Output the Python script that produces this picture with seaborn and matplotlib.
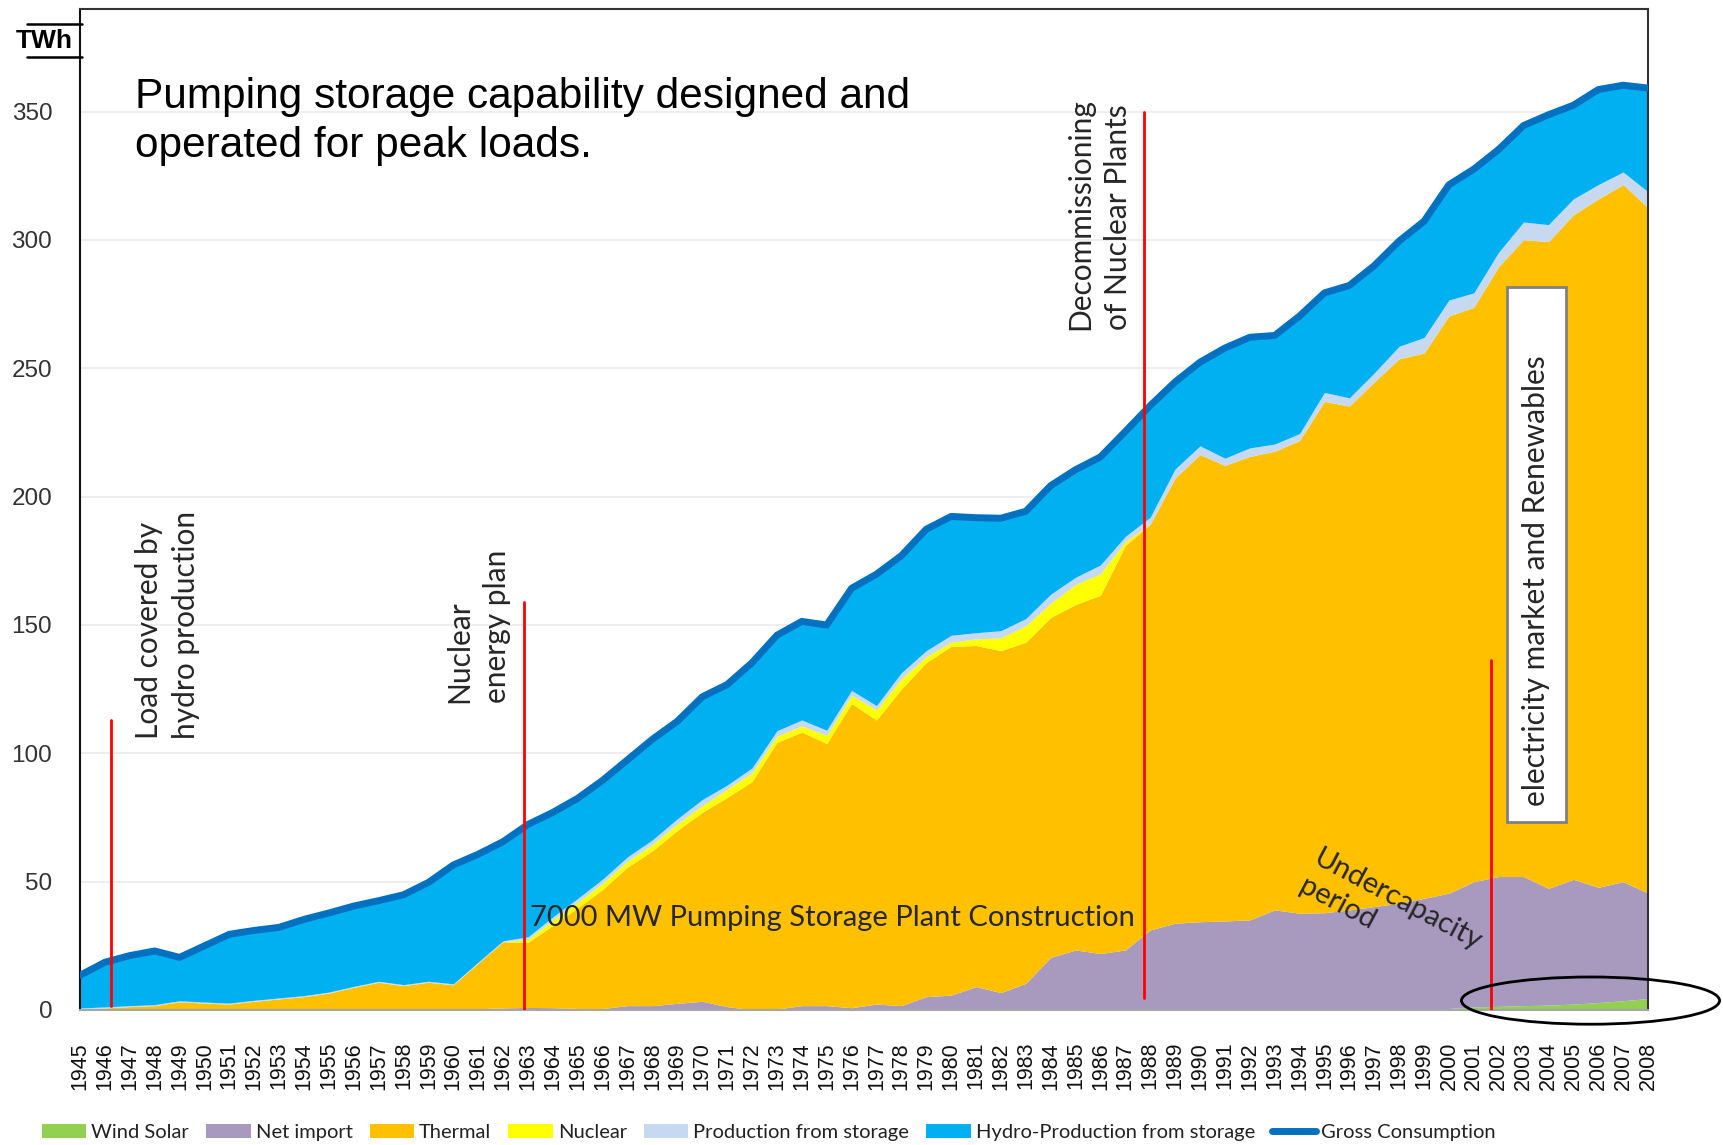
import matplotlib
matplotlib.use("Agg")
import matplotlib.pyplot as plt
import seaborn as sns
from matplotlib.patches import Ellipse, Patch, Rectangle
from matplotlib.lines import Line2D

# ---------------- data (TWh) ----------------
years = list(range(1945, 2009))

wind_solar = [0, 0, 0, 0, 0, 0, 0, 0, 0, 0,
              0, 0, 0, 0, 0, 0, 0, 0, 0, 0,
              0, 0, 0, 0, 0, 0, 0, 0, 0, 0,
              0, 0, 0, 0, 0, 0, 0, 0, 0, 0,
              0, 0, 0, 0, 0, 0, 0, 0, 0, 0,
              0, 0, 0.1, 0.2, 0.4, 0.6, 1.2, 1.4, 1.7, 1.9,
              2.3, 2.9, 3.6, 4.5]

net_import = [0.1, 0.1, 0.1, 0.1, 0.1, 0.1, 0.1, 0.1, 0.1, 0.1,
              0.1, 0.1, 0.1, 0.1, 0.3, 0.3, 0.5, 0.8, 1.0, 0.9,
              0.6, 0.6, 1.7, 1.7, 2.6, 3.4, 1.3, 0.1, 0.4, 1.7,
              1.7, 0.9, 2.3, 1.7, 5.2, 5.8, 9.1, 6.8, 10.4, 20.5,
              23.4, 22.0, 23.4, 31.2, 33.8, 34.4, 34.7, 35.1, 39.0, 37.7,
              37.9, 39.0, 40.2, 41.4, 43.1, 44.9, 48.8, 50.6, 50.3, 45.5,
              48.6, 44.9, 46.4, 41.0]

thermal = [0.3, 0.7, 1.2, 1.6, 3.1, 2.6, 2.2, 3.3, 4.2, 5.1,
           6.5, 8.7, 10.7, 9.4, 10.5, 9.5, 17.8, 25.8, 25.3, 32.1,
           39.2, 46.4, 54.0, 60.3, 67.4, 73.6, 81.5, 88.9, 103.9, 106.6,
           102.1, 118.5, 110.7, 123.3, 130.2, 135.9, 132.9, 133.2, 132.9, 132.4,
           134.6, 139.6, 157.6, 158.1, 173.5, 182.0, 177.5, 180.6, 178.7, 184.2,
           199.2, 196.3, 204.4, 212.1, 212.5, 224.9, 223.8, 237.7, 248.1, 252.0,
           258.9, 268.2, 271.6, 267.1]

nuclear = [0, 0, 0, 0, 0, 0, 0, 0, 0, 0,
           0, 0, 0, 0, 0, 0, 0, 0, 1.2, 2.0,
           2.2, 2.4, 2.3, 2.5, 2.5, 2.6, 3.2, 3.4, 2.4, 2.4,
           3.2, 3.2, 4.0, 4.0, 2.3, 1.6, 2.6, 5.0, 6.4, 5.6,
           7.8, 8.4, 1.5, 0, 0, 0, 0, 0, 0, 0,
           0, 0, 0, 0, 0, 0, 0, 0, 0, 0,
           0, 0, 0, 0]

prod_storage = [0.4, 0.4, 0.4, 0.4, 0.4, 0.4, 0.4, 0.4, 0.4, 0.4,
                0.4, 0.4, 0.4, 0.4, 0.4, 0.4, 0.4, 0.4, 1.0, 1.3,
                1.5, 1.6, 1.7, 1.8, 2.0, 2.4, 1.6, 1.9, 2.1, 2.3,
                2.0, 1.9, 1.6, 2.4, 2.3, 2.7, 2.4, 2.8, 2.8, 3.5,
                2.8, 3.4, 2.0, 2.7, 3.5, 3.4, 2.8, 3.3, 2.8, 2.7,
                3.5, 3.2, 3.5, 4.9, 6.0, 6.2, 5.6, 5.6, 6.9, 6.6,
                6.2, 5.6, 4.9, 6.2]

hydro = [12.7, 17.4, 19.5, 20.9, 16.9, 21.9, 26.8, 27.2, 27.5, 29.7,
         30.8, 31.3, 31.4, 35.0, 38.5, 46.3, 42.0, 38.6, 43.8, 40.7,
         39.0, 38.5, 37.8, 39.2, 38.0, 40.0, 39.2, 41.0, 37.2, 38.4,
         41.0, 39.8, 51.2, 45.6, 47.3, 46.3, 44.8, 43.8, 41.8, 42.3,
         41.9, 42.1, 40.9, 43.5, 33.9, 32.6, 42.9, 43.1, 42.3, 45.8,
         38.8, 43.8, 41.8, 41.0, 45.3, 44.9, 48.2, 40.0, 37.6, 42.8,
         36.5, 37.0, 33.8, 40.4]

gross = [13.5, 18.6, 21.2, 23.0, 20.5, 25.0, 29.5, 31.0, 32.2, 35.3,
         37.8, 40.5, 42.6, 44.9, 49.7, 56.5, 60.7, 65.6, 72.3, 77.0,
         82.5, 89.5, 97.5, 105.5, 112.5, 122.0, 126.8, 135.3, 146.0, 151.4,
         150.0, 164.3, 169.8, 177.0, 187.3, 192.3, 191.8, 191.6, 194.3, 204.3,
         210.5, 215.5, 225.4, 235.5, 244.7, 252.4, 257.9, 262.1, 262.8, 270.4,
         279.4, 282.3, 290.0, 299.6, 307.3, 321.5, 327.6, 335.3, 344.6, 348.8,
         352.5, 358.6, 360.3, 359.2]

series_labels = ["Wind Solar", "Net import", "Thermal", "Nuclear",
                 "Production from storage", "Hydro-Production from storage"]
series_colors = ["#92D050", "#A899BE", "#FFC000", "#FFFF00", "#C6D9F1", "#00B0F0"]
line_label = "Gross Consumption"
line_color = "#0070C0"
y_ticks = [0, 50, 100, 150, 200, 250, 300, 350]

# ---------------- figure ----------------
sns.set_theme(style="white")
plt.rcParams['font.family'] = ['Liberation Sans', 'DejaVu Sans']

W, H = 1723, 1145
fig = plt.figure(figsize=(W / 100, H / 100), dpi=100)
ax = fig.add_axes([80 / W, 1 - 1010 / H, 1568 / W, 1001 / H])
ax.set_axisbelow(True)

ax.stackplot(years, wind_solar, net_import, thermal, nuclear, prod_storage, hydro,
             colors=series_colors, linewidth=0, labels=series_labels, zorder=2)
sns.lineplot(x=years, y=gross, ax=ax, color=line_color, linewidth=5,
             legend=False, zorder=3, solid_capstyle='round', solid_joinstyle='round')

ax.set_xlim(1945, 2008)
ax.set_ylim(0, 390)
ax.set_yticks(y_ticks)
ax.set_yticklabels([str(v) for v in y_ticks], fontsize=17.5, color='#333333')
ax.set_xticks(years)
ax.set_xticklabels([str(y) for y in years], rotation=90, fontsize=15.5, color='#111111')
ax.set_xlabel("")
ax.set_ylabel("")
ax.yaxis.grid(True, color='#EBEBEB', linewidth=1.2)
ax.xaxis.grid(False)
ax.tick_params(axis='x', direction='out', length=9, width=1.2, color='#A6A6A6', pad=14)
ax.tick_params(axis='y', direction='out', length=7, width=1.2, color='#222222', pad=13)

ax.spines['left'].set_color('#111111')
ax.spines['left'].set_linewidth(1.5)
ax.spines['bottom'].set_color('#A6A6A6')
ax.spines['bottom'].set_linewidth(1.5)
for s in ['top', 'right']:
    ax.spines[s].set_color('#333333')
    ax.spines[s].set_linewidth(1.5)
    ax.spines[s].set_visible(True)

# ---------------- annotations ----------------
ax.text(1947.2, 363.5, "Pumping storage capability designed and\noperated for peak loads.",
        fontsize=30.5, ha='left', va='top', color='black', linespacing=1.3, zorder=6)

red = '#FF0000'
ax.plot([1946.25, 1946.25], [1.7, 113], color=red, lw=2, zorder=5)
ax.plot([1962.84, 1962.84], [0.5, 159], color=red, lw=2, zorder=5)
ax.plot([1987.75, 1987.75], [4.7, 350], color=red, lw=2, zorder=5)
ax.plot([2001.69, 2001.69], [0, 136.5], color=red, lw=2, zorder=5)

ann_font = ['Lato', 'DejaVu Sans']
rot_size = 21.5
ax.text(1948.5, 105.7, "Load covered by\nhydro production", rotation=90, fontsize=rot_size,
        family=ann_font, ha='center', va='bottom', multialignment='left',
        linespacing=1.4, zorder=6)
ax.text(1961.0, 119.5, "Nuclear\nenergy plan", rotation=90, fontsize=rot_size,
        family=ann_font, ha='center', va='bottom', multialignment='left',
        linespacing=1.4, zorder=6)
ax.text(1985.94, 264.9, "Decommissioning\nof Nuclear Plants", rotation=90, fontsize=rot_size,
        family=ann_font, ha='center', va='bottom', multialignment='left',
        linespacing=1.4, zorder=6)
ax.text(1963.08, 36.0, "7000 MW Pumping Storage Plant Construction", fontsize=21,
        family=ann_font, ha='left', va='center', zorder=6)
ax.text(1997.67, 37.4, "Undercapacity\nperiod", rotation=-28, rotation_mode='anchor',
        fontsize=21, family=ann_font, ha='center', va='center', multialignment='left',
        linespacing=1.25, zorder=6)

ax.add_patch(Rectangle((2002.33, 73.2), 2.37, 208.3, facecolor='white',
                       edgecolor='#808080', linewidth=2, zorder=5))
ax.text(2003.52, 167.4, "electricity market and Renewables", rotation=90, fontsize=rot_size,
        family=ann_font, ha='center', va='center', zorder=6)

ax.add_patch(Ellipse((2005.69, 3.66), width=10.37, height=18.4, fill=False,
                     edgecolor='black', linewidth=2, clip_on=False, zorder=7))

# TWh unit label
fig.text(44 / W, 1 - 41.5 / H, "TWh", ha='center', va='center', fontsize=19,
         fontweight='bold', color='black')
fig.add_artist(Line2D([27 / W, 82 / W], [1 - 24 / H, 1 - 24 / H], color='black',
                      lw=1.8, transform=fig.transFigure))
fig.add_artist(Line2D([27 / W, 82 / W], [1 - 57 / H, 1 - 57 / H], color='black',
                      lw=1.8, transform=fig.transFigure))

# ---------------- legend ----------------
handles = [Patch(facecolor=c, edgecolor='none', label=l)
           for c, l in zip(series_colors, series_labels)]
handles.append(Line2D([0], [0], color=line_color, lw=5, label=line_label))
fig.legend(handles=handles, loc='lower left', bbox_to_anchor=(30 / W, -0.007),
           ncol=7, frameon=False, prop={'family': ann_font, 'size': 14.5},
           handlelength=2.2, handleheight=0.65, handletextpad=0.25,
           columnspacing=0.85, labelcolor='#222222', borderaxespad=0.2)

fig.savefig("out.png", dpi=100)
